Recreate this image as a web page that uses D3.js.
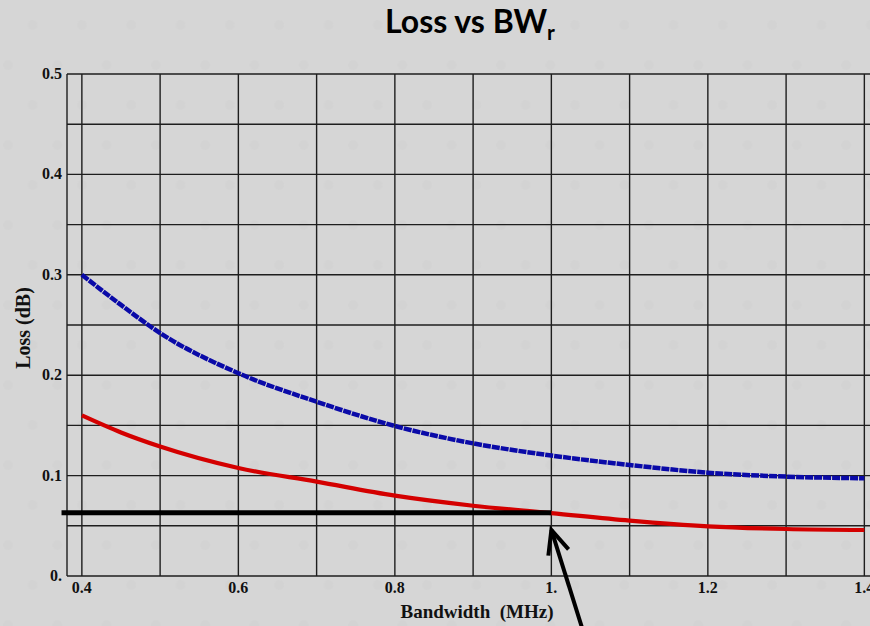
<!DOCTYPE html>
<html>
<head>
<meta charset="utf-8">
<script src="https://cdn.jsdelivr.net/npm/d3@7"></script>
<style>
  html, body { margin: 0; padding: 0; background: #d6d6d6; }
  svg { display: block; }
</style>
</head>
<body>
<div id="chart"></div>
<script>
// values
const bandwidth = [0.4, 0.45, 0.5, 0.6, 0.7, 0.8, 0.9, 1.0, 1.1, 1.2, 1.3, 1.4];
const lossBlue  = [0.300, 0.270, 0.242, 0.202, 0.1736, 0.1494, 0.1321, 0.1200, 0.1106, 0.1029, 0.0990, 0.0973];
const lossRed   = [0.160, 0.143, 0.129, 0.1076, 0.0940, 0.0800, 0.0700, 0.0627, 0.0552, 0.0495, 0.0468, 0.0458];

const xGrid = [0.4, 0.5, 0.6, 0.7, 0.8, 0.9, 1.0, 1.1, 1.2, 1.3, 1.4];
const xTickValues = [0.4, 0.6, 0.8, 1.0, 1.2, 1.4];
const xTickLabels = ['0.4', '0.6', '0.8', '1.', '1.2', '1.4'];
const yGrid = [0.05, 0.1, 0.15, 0.2, 0.25, 0.3, 0.35, 0.4, 0.45, 0.5];
const yTickValues = [0, 0.1, 0.2, 0.3, 0.4, 0.5];
const yTickLabels = ['0.', '0.1', '0.2', '0.3', '0.4', '0.5'];

// annotation: horizontal marker line and arrow (data units)
const markerLine = { x0: 0.374, x1: 1.0, y: 0.063 };
const arrow = { x0: 1.041, y0: -0.056, x1: 1.0, y1: 0.046 };

const width = 870, height = 626;
const svg = d3.select('#chart').append('svg')
    .attr('width', width)
    .attr('height', height)
    .attr('viewBox', `0 0 ${width} ${height}`);

// faint dotted background
const defs = svg.append('defs');
const pat = defs.append('pattern')
    .attr('id', 'dots')
    .attr('patternUnits', 'userSpaceOnUse')
    .attr('width', 49.3).attr('height', 80);
pat.append('circle').attr('cx', 8).attr('cy', 65).attr('r', 5).attr('fill', '#cfcfcf').attr('opacity', 0.35);
pat.append('circle').attr('cx', 32.6).attr('cy', 25).attr('r', 5).attr('fill', '#cfcfcf').attr('opacity', 0.35);
svg.append('rect').attr('width', width).attr('height', height).attr('fill', '#d6d6d6');
svg.append('rect').attr('width', width).attr('height', height).attr('fill', 'url(#dots)');

// SCALES
const x = d3.scaleLinear().domain([0.381, 1.42]).range([67, 880]);
const y = d3.scaleLinear().domain([0, 0.5]).range([576, 74]);

const plot = svg.append('g');

// GRID
plot.selectAll('.hgrid')
    .data([0].concat(yGrid))
    .join('line')
    .attr('x1', x(0.381)).attr('x2', width + 5)
    .attr('y1', d => y(d)).attr('y2', d => y(d))
    .attr('stroke', '#1e1e1e').attr('stroke-width', 1.4);

plot.selectAll('.vgrid')
    .data([0.381].concat(xGrid))
    .join('line')
    .attr('x1', d => x(d)).attr('x2', d => x(d))
    .attr('y1', y(0)).attr('y2', y(0.5))
    .attr('stroke', '#1e1e1e').attr('stroke-width', 1.4);

// TICK LABELS
const serif = '"Liberation Serif", "DejaVu Serif", serif';
svg.append('g').selectAll('text')
    .data(yTickValues)
    .join('text')
    .attr('x', 62)
    .attr('y', d => y(d) + 5)
    .attr('text-anchor', 'end')
    .attr('font-family', serif).attr('font-weight', 'bold').attr('font-size', 16)
    .attr('fill', '#111')
    .text((d, i) => yTickLabels[i]);

svg.append('g').selectAll('text')
    .data(xTickValues)
    .join('text')
    .attr('x', d => x(d))
    .attr('y', 593)
    .attr('text-anchor', 'middle')
    .attr('font-family', serif).attr('font-weight', 'bold').attr('font-size', 16)
    .attr('fill', '#111')
    .text((d, i) => xTickLabels[i]);

// AXIS TITLES
svg.append('text')
    .attr('x', 477).attr('y', 618)
    .attr('text-anchor', 'middle')
    .attr('font-family', serif).attr('font-weight', 'bold').attr('font-size', 19)
    .attr('fill', '#111')
    .attr('xml:space', 'preserve')
    .text('Bandwidth  (MHz)');

svg.append('text')
    .attr('transform', 'translate(30,328) rotate(-90)')
    .attr('text-anchor', 'middle')
    .attr('font-family', serif).attr('font-weight', 'bold').attr('font-size', 20)
    .attr('fill', '#111')
    .text('Loss (dB)');

// TITLE
const title = svg.append('text')
    .attr('x', 470).attr('y', 33)
    .attr('text-anchor', 'middle')
    .attr('font-family', 'Lato, "Open Sans", sans-serif').attr('font-weight', 'bold').attr('font-size', 32)
    .attr('fill', '#000');
title.append('tspan').text('Loss vs BW');
title.append('tspan').attr('font-size', 21).attr('dy', 7).text('r');

// CURVES
const pts = vals => bandwidth.map((b, i) => [b, vals[i]]);
const line = d3.line()
    .x(d => x(d[0]))
    .y(d => y(d[1]))
    .curve(d3.curveMonotoneX);

plot.append('path')
    .datum(pts(lossBlue))
    .attr('fill', 'none')
    .attr('stroke', '#0a0aa8')
    .attr('stroke-width', 4.5)
    .attr('stroke-dasharray', '8,1')
    .attr('d', line);

plot.append('path')
    .datum(pts(lossRed))
    .attr('fill', 'none')
    .attr('stroke', '#d40000')
    .attr('stroke-width', 4.2)
    .attr('d', line);

// ANNOTATION
svg.append('line')
    .attr('x1', x(markerLine.x0)).attr('x2', x(markerLine.x1))
    .attr('y1', y(markerLine.y)).attr('y2', y(markerLine.y))
    .attr('stroke', '#000').attr('stroke-width', 5);

const ax0 = x(arrow.x0), ay0 = y(arrow.y0), ax1 = x(arrow.x1), ay1 = y(arrow.y1);
svg.append('line')
    .attr('x1', ax0).attr('y1', ay0).attr('x2', ax1).attr('y2', ay1)
    .attr('stroke', '#000').attr('stroke-width', 4);
const ang = Math.atan2(ay0 - ay1, ax0 - ax1);
const headLen = 26, spread = 0.42;
const head = d3.path();
head.moveTo(ax1 + headLen * Math.cos(ang - spread), ay1 + headLen * Math.sin(ang - spread));
head.lineTo(ax1, ay1);
head.lineTo(ax1 + headLen * Math.cos(ang + spread), ay1 + headLen * Math.sin(ang + spread));
svg.append('path')
    .attr('d', head.toString())
    .attr('fill', 'none')
    .attr('stroke', '#000').attr('stroke-width', 4)
    .attr('stroke-linejoin', 'miter');
</script>
</body>
</html>
